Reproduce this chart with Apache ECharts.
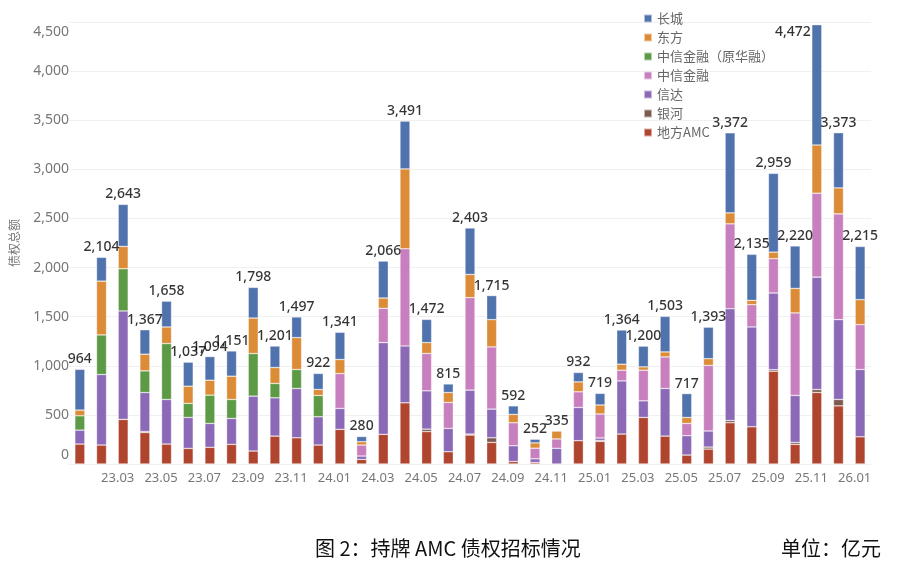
<!DOCTYPE html>
<html>
<head>
    <meta charset="UTF-8">
    <title>持牌AMC债权招标情况</title>
    <script src="https://cdn.jsdelivr.net/npm/echarts@6/dist/echarts.min.js"></script>
    <style>
        body { margin: 0; background: #fff; }
    </style>
</head>
<body>
<div id="chart" style="width:900px; height:569px;"></div>
<script>
    // 月份
    var months = ['23.01', '23.02', '23.03', '23.04', '23.05', '23.06', '23.07', '23.08', '23.09', '23.10', '23.11', '23.12',
        '24.01', '24.02', '24.03', '24.04', '24.05', '24.06', '24.07', '24.08', '24.09', '24.10', '24.11', '24.12',
        '25.01', '25.02', '25.03', '25.04', '25.05', '25.06', '25.07', '25.08', '25.09', '25.10', '25.11', '25.12',
        '26.01'];

    // 各家债权招标额（亿元），从下到上堆叠
    var difangAMC = [203, 193, 454, 320, 203, 159, 170, 200, 132, 284, 267, 193,
        353, 47, 302, 623, 330, 125, 295, 220, 25, 15, 0, 237,
        230, 305, 474, 284, 91, 152, 420, 379, 945, 200, 728, 592, 277];
    var yinhe = [0, 0, 0, 10, 0, 0, 0, 0, 0, 0, 0, 0,
        0, 0, 0, 0, 25, 0, 10, 47, 0, 0, 0, 0,
        10, 0, 0, 0, 0, 20, 22, 0, 15, 20, 30, 65, 0];
    var xinda = [142, 718, 1104, 398, 454, 315, 243, 264, 559, 390, 502, 288,
        213, 34, 934, 579, 390, 238, 447, 292, 161, 38, 160, 339,
        25, 541, 169, 485, 197, 164, 1138, 1016, 781, 478, 1145, 813, 685];
    var zhongxin = [0, 0, 0, 0, 0, 0, 0, 0, 0, 0, 0, 0,
        355, 112, 349, 989, 380, 264, 942, 633, 234, 108, 95, 159,
        244, 109, 312, 321, 125, 668, 865, 227, 349, 840, 854, 1077, 457];
    var huarong = [146, 403, 430, 220, 569, 143, 288, 193, 434, 146, 193, 217,
        0, 0, 0, 0, 0, 0, 0, 0, 0, 0, 0, 0,
        0, 0, 0, 0, 0, 0, 0, 0, 0, 0, 0, 0, 0];
    var dongfang = [58, 548, 227, 170, 169, 175, 152, 237, 361, 162, 325, 61,
        143, 34, 105, 813, 111, 101, 236, 278, 85, 54, 80, 101,
        92, 61, 34, 51, 61, 68, 112, 44, 67, 250, 491, 264, 254];
    var changcheng = [415, 242, 428, 249, 263, 245, 241, 257, 312, 219, 210, 163,
        277, 53, 376, 487, 236, 87, 473, 245, 87, 37, 0, 96,
        118, 348, 211, 362, 243, 321, 815, 469, 802, 432, 1224, 562, 542];
    // 柱顶合计
    var totals = [964, 2104, 2643, 1367, 1658, 1037, 1094, 1151, 1798, 1201, 1497, 922,
        1341, 280, 2066, 3491, 1472, 815, 2403, 1715, 592, 252, 335, 932,
        719, 1364, 1200, 1503, 717, 1393, 3372, 2135, 2959, 2220, 4472, 3373, 2215];

    var seriesList = [
        {name: '地方AMC', data: difangAMC, color: '#b0452f'},
        {name: '银河', data: yinhe, color: '#7c5a50'},
        {name: '信达', data: xinda, color: '#8b69b6'},
        {name: '中信金融', data: zhongxin, color: '#c87fbd'},
        {name: '中信金融（原华融）', data: huarong, color: '#5d9a45'},
        {name: '东方', data: dongfang, color: '#dc8b36'},
        {name: '长城', data: changcheng, color: '#5073ae'}
    ];

    var font = '"Noto Sans", "Noto Sans CJK SC", sans-serif';

    // 千分位
    function fmt(v) {
        return String(v).replace(/\B(?=(\d{3})+(?!\d))/g, ',');
    }

    var chart = echarts.init(document.getElementById('chart'), null, {renderer: 'canvas'});

    var series = seriesList.map(function (s) {
        return {
            name: s.name,
            type: 'bar',
            stack: 'total',
            barWidth: 10,
            itemStyle: {
                color: s.color,
                borderColor: 'rgba(255,255,255,0.55)',
                borderWidth: 0.6
            },
            data: s.data.map(function (v) { return v === 0 ? '-' : v; })
        };
    });

    // 合计标签（用不可见的散点放在柱顶）
    series.push({
        name: '合计',
        type: 'scatter',
        symbolSize: 0,
        silent: true,
        z: 10,
        label: {
            show: true,
            position: 'top',
            distance: 3,
            color: '#000',
            fontSize: 14,
            fontWeight: 500,
            fontFamily: font,
            formatter: function (p) { return fmt(p.value); }
        },
        data: totals.map(function (v, i) {
            // 最高的一根柱子放不下，标签挪到左边
            if (v === 4472) {
                return {value: v, label: {position: 'left', distance: 6, offset: [0, 7]}};
            }
            return v;
        })
    });

    var option = {
        backgroundColor: '#ffffff',
        animation: false,
        title: [
            {
                text: '图 2：持牌 AMC 债权招标情况',
                left: 310,
                top: 533,
                textStyle: {color: '#111', fontSize: 20, fontWeight: 'normal', fontFamily: '"Noto Sans CJK SC", sans-serif'}
            },
            {
                text: '单位：亿元',
                right: 14,
                top: 533,
                textStyle: {color: '#111', fontSize: 20, fontWeight: 'normal', fontFamily: '"Noto Sans CJK SC", sans-serif'}
            }
        ],
        legend: {
            orient: 'vertical',
            left: 638,
            top: 7,
            icon: 'rect',
            itemWidth: 8,
            itemHeight: 8,
            itemGap: 6,
            textStyle: {color: '#666', fontSize: 13, fontFamily: '"Noto Sans CJK SC", sans-serif'},
            data: ['长城', '东方', '中信金融（原华融）', '中信金融', '信达', '银河', '地方AMC']
        },
        grid: {
            left: 62,
            right: 29,
            top: 22,
            bottom: 105
        },
        xAxis: {
            type: 'category',
            data: months,
            axisLine: {show: false},
            axisTick: {show: false},
            axisLabel: {
                color: '#777',
                fontSize: 13,
                fontFamily: font,
                margin: 8,
                padding: [0, 11, 0, 0],
                interval: function (i) { return i > 0 && i % 2 === 0; }
            }
        },
        yAxis: {
            type: 'value',
            min: 0,
            max: 4500,
            interval: 500,
            name: '债权总额',
            nameLocation: 'middle',
            nameGap: 49,
            nameTextStyle: {color: '#777', fontSize: 12, fontFamily: '"Noto Sans CJK SC", sans-serif'},
            axisLine: {show: false},
            axisTick: {show: false},
            splitLine: {lineStyle: {color: '#f0f0f0'}},
            axisLabel: {
                color: '#777',
                fontSize: 14,
                fontFamily: font,
                margin: 0,
                formatter: function (v) {
                    if (v === 0) return '{bot|0}';
                    if (v === 4500) return '{top|4,500}';
                    return fmt(v);
                },
                rich: {
                    bot: {color: '#777', fontSize: 14, fontFamily: font, padding: [0, 0, 18, 0]},
                    top: {color: '#777', fontSize: 14, fontFamily: font, padding: [20, 0, 0, 0]}
                }
            }
        },
        series: series
    };

    chart.setOption(option);
</script>
</body>
</html>
